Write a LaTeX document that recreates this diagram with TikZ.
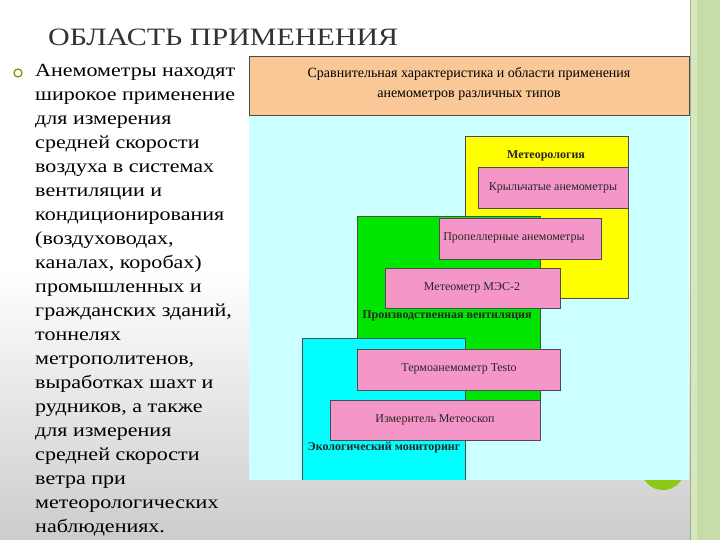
\documentclass[tikz,border=0pt]{standalone}
\usepackage{fontspec}
\setmainfont{Liberation Serif}
\definecolor{cyanA}{RGB}{0,255,255}
\definecolor{bgC}{RGB}{204,255,255}
\definecolor{orA}{RGB}{250,200,150}
\definecolor{pinkA}{RGB}{245,150,200}
\definecolor{grA}{RGB}{0,230,0}
\definecolor{yeA}{RGB}{255,255,0}
\definecolor{stripA}{RGB}{214,230,190}
\definecolor{stripB}{RGB}{200,220,170}
\definecolor{dotA}{RGB}{140,200,20}
\begin{document}
\begin{tikzpicture}[x=1pt,y=-1pt,
  pinkbox/.style={draw=black!70,fill=pinkA,line width=0.8pt},
  area/.style={draw=black!70,line width=0.8pt},
  lbl/.style={font=\fontsize{12}{13}\selectfont,text=black!85,inner sep=0pt}]
\useasboundingbox (0,0) rectangle (720,540);
\shade[top color=white,bottom color=white!80!black,middle color=white] (0,0) rectangle (690,540);
\fill[stripA] (690,0) rectangle (720,540);
\fill[stripB] (697,0) rectangle (720,540);
\draw[stripB!80!black,line width=0.8pt] (690,0) -- (690,540);
\fill[dotA] (663,468) circle (22);
\node[anchor=west,font=\fontsize{25}{27}\selectfont,text=black!80,xscale=1.2] (title) at (44,37) {ОБЛАСТЬ ПРИМЕНЕНИЯ};
\draw[olive!80!green,line width=1.3pt] (18,73) circle (4);
\node[anchor=north west,inner sep=0pt,align=left,font=\fontsize{18.5}{24}\selectfont,xscale=1.19] (body) at (35,64) {Анемометры находят\\широкое применение\\для измерения\\средней скорости\\воздуха в системах\\вентиляции и\\кондиционирования\\(воздуховодах,\\каналах, коробах)\\промышленных и\\гражданских зданий,\\тоннелях\\метрополитенов,\\выработках шахт и\\рудников, а также\\для измерения\\средней скорости\\ветра при\\метеорологических\\наблюдениях.};
\fill[bgC] (249,115) rectangle (689,480);
\fill[orA] (249,56) rectangle (689,115);
\draw[black!70] (249,56) rectangle (689,115);
\node[align=center,font=\fontsize{14}{20}\selectfont,inner sep=0pt] (head) at (469,84) {Сравнительная характеристика и области применения\\анемометров различных типов};
\fill[yeA] (465,136) rectangle (628,298);
\draw[area] (465,136) rectangle (628,298);
\fill[grA] (357,216) rectangle (540,400);
\draw[area] (357,216) rectangle (540,400);
\fill[cyanA] (302,338) rectangle (465,480);
\draw[area] (302,480) -- (302,338) -- (465,338) -- (465,480);
\node[lbl,font=\bfseries\fontsize{12}{13}\selectfont] (met) at (546,156) {Метеорология};
\node[lbl,font=\bfseries\fontsize{12}{13}\selectfont] (prom) at (447,316) {Производственная вентиляция};
\node[lbl,font=\bfseries\fontsize{12}{13}\selectfont] (eco) at (384,448) {Экологический мониторинг};
\draw[pinkbox] (478,167) rectangle (628,208); \node[lbl] (k) at (553,188) {Крыльчатые анемометры};
\draw[pinkbox] (439,218) rectangle (601,259); \node[lbl] (p) at (514,238) {Пропеллерные анемометры};
\draw[pinkbox] (385,268) rectangle (560,308); \node[lbl] (m) at (472,288) {Метеометр МЭС-2};
\draw[pinkbox] (357,349) rectangle (560,390); \node[lbl] (t) at (459,369) {Термоанемометр Testo};
\draw[pinkbox] (330,400) rectangle (540,440); \node[lbl] (i) at (435,420) {Измеритель Метеоскоп};
\end{tikzpicture}
\end{document}
